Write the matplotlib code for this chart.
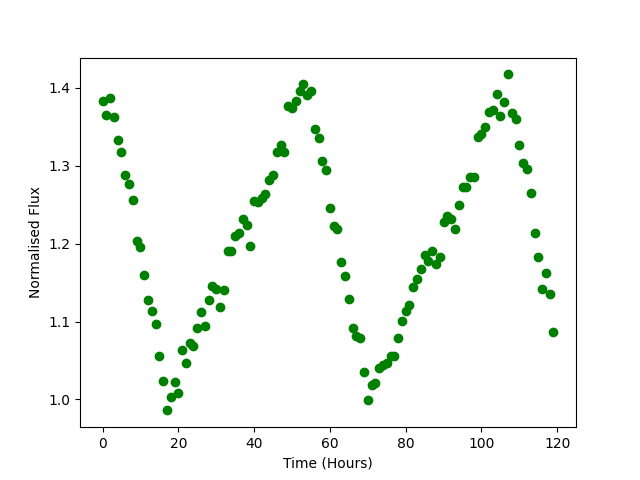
import matplotlib
matplotlib.use("Agg")
import matplotlib.pyplot as plt
import numpy as np

hours = list(range(120))
flux = [
    1.383, 1.365, 1.387, 1.362, 1.333, 1.317, 1.288, 1.276, 1.256, 1.203,
    1.195, 1.160, 1.127, 1.114, 1.097, 1.056, 1.024, 0.986, 1.003, 1.022,
    1.008, 1.063, 1.047, 1.072, 1.068, 1.092, 1.112, 1.094, 1.127, 1.146,
    1.142, 1.119, 1.141, 1.191, 1.190, 1.210, 1.214, 1.232, 1.224, 1.197,
    1.254, 1.253, 1.259, 1.264, 1.282, 1.288, 1.318, 1.326, 1.318, 1.376,
    1.374, 1.383, 1.396, 1.405, 1.391, 1.396, 1.347, 1.335, 1.306, 1.294,
    1.246, 1.222, 1.219, 1.176, 1.159, 1.129, 1.092, 1.081, 1.079, 1.035,
    0.999, 1.018, 1.021, 1.040, 1.044, 1.047, 1.056, 1.056, 1.079, 1.101,
    1.113, 1.121, 1.144, 1.155, 1.168, 1.185, 1.178, 1.191, 1.174, 1.183,
    1.228, 1.235, 1.231, 1.219, 1.250, 1.273, 1.272, 1.285, 1.286, 1.337,
    1.341, 1.350, 1.369, 1.371, 1.392, 1.364, 1.382, 1.417, 1.367, 1.360,
    1.326, 1.303, 1.296, 1.265, 1.214, 1.183, 1.142, 1.162, 1.135, 1.087,
]

fig, ax = plt.subplots(figsize=(6.4, 4.8), dpi=100)
ax.scatter(hours, flux, color="green")
ax.set_xlabel("Time (Hours)")
ax.set_ylabel("Normalised Flux")
fig.savefig("out.png")
